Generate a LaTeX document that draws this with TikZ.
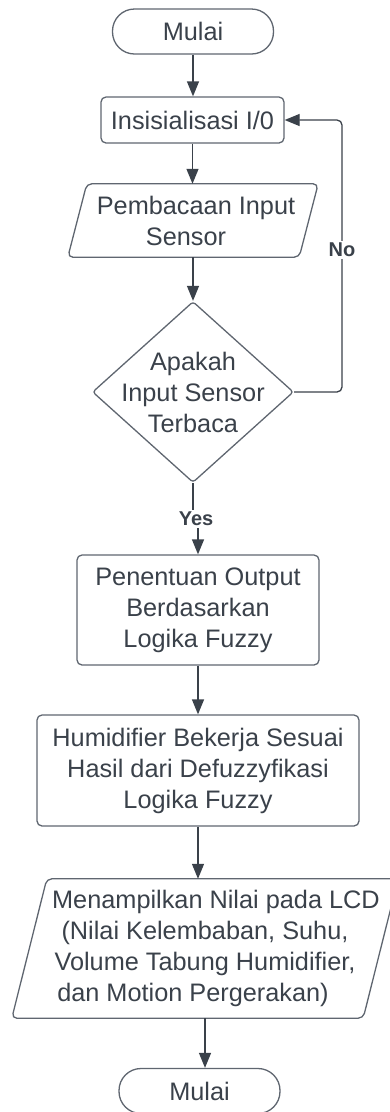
\documentclass[tikz,border=0pt]{standalone}
\usepackage{fontspec}
\setmainfont{Liberation Sans}
\usetikzlibrary{arrows.meta,shapes.geometric}
\definecolor{txt}{HTML}{3A414A}
\definecolor{edge}{HTML}{5F6670}
\begin{document}
\begin{tikzpicture}[x=1pt,y=-1pt,
  every node/.style={text=txt, font=\fontsize{25.3}{31}\selectfont, align=center},
  proc/.style={draw=edge, line width=1.3pt, rounded corners=5pt, inner sep=0pt},
  term/.style={draw=edge, line width=1.3pt, rounded corners=22pt, minimum width=161pt, minimum height=45pt, inner sep=0pt},
  ioshape/.style={inner sep=0pt},
  ioline/.style={draw=edge, line width=1.3pt, rounded corners=5pt},
  arr/.style={draw=txt, line width=1.3pt, -{Triangle[width=12pt,length=15pt]}},
  lbl/.style={font=\bfseries\fontsize{20}{23}\selectfont, fill=white, inner sep=2pt}
]
\useasboundingbox (0,0) rectangle (390,1112);

\node[term] (start) at (193,31.5) {Mulai};
\node[proc, minimum width=183pt, minimum height=46pt] (init) at (192.5,120) {Insisialisasi I/0};

\node[ioshape, minimum width=231pt, minimum height=73pt] (read) at (193,220.5) {\hspace*{6pt}Pembacaan Input\\Sensor\hspace*{14pt}};
\draw[ioline] ([xshift=9.5pt]read.north west) -- ([xshift=9.5pt]read.north east)
  -- ([xshift=-9.5pt]read.south east) -- ([xshift=-9.5pt]read.south west) -- cycle;

\node[diamond, draw=edge, line width=1.3pt, rounded corners=3pt, minimum width=201pt, minimum height=181pt, inner sep=0pt] (dec) at (193,392) {};
\node (dectext) at (dec.center) {Apakah\\Input Sensor\\Terbaca};

\node[proc, minimum width=242pt, minimum height=110pt] (fuzzy) at (198,610) {Penentuan Output\\Berdasarkan\\Logika Fuzzy};
\node[proc, minimum width=322pt, minimum height=111pt] (hum) at (198,770.5) {Humidifier Bekerja Sesuai\\Hasil dari Defuzzyfikasi\\Logika Fuzzy};

\node[ioshape, minimum width=351pt, minimum height=139pt] (lcd) at (205,948.5) {\hspace*{22pt}Menampilkan Nilai pada LCD\\(Nilai Kelembaban, Suhu,\hspace*{8pt}\\Volume Tabung Humidifier,\hspace*{8pt}\\dan Motion Pergerakan)\hspace*{24pt}};
\draw[ioline] ([xshift=17.5pt]lcd.north west) -- ([xshift=17.5pt]lcd.north east)
  -- ([xshift=-17.5pt]lcd.south east) -- ([xshift=-17.5pt]lcd.south west) -- cycle;

\node[term] (stop) at (199.5,1091) {Mulai};

\draw[arr] (start.south) -- (start.south |- init.north);
\draw[arr] (init.south) -- (init.south |- read.north);
\draw[arr] (read.south) -- (dec.north);

\coordinate (loop) at (342,120);
\draw[arr, rounded corners=5pt] (dec.east) -| (loop) -- (init.east);
\node[lbl] (no) at (342,250) {No};

\coordinate (yc) at (196,519);
\draw[arr] (dec.south) |- (yc) -| (fuzzy.north);
\node[lbl] (yes) at (yc) {Yes};

\draw[arr] (fuzzy.south) -- (hum.north);
\draw[arr] (hum.south) -- (hum.south |- lcd.north);
\draw[arr] (lcd.south) -- (lcd.south |- stop.north);
\end{tikzpicture}
\end{document}
